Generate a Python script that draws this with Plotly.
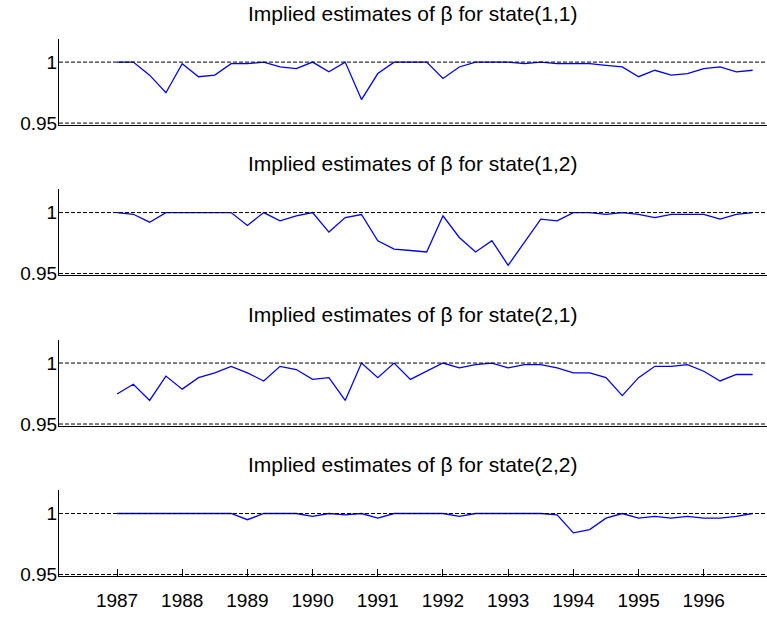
import plotly.graph_objects as go

# ---- data ----
YEARS = [1987, 1988, 1989, 1990, 1991, 1992, 1993, 1994, 1995, 1996]
YEAR_LABELS = [str(y) for y in YEARS]
QUARTERS = [y + q / 4 for y in YEARS for q in range(4)]

STATE_11 = [1.0, 1.0, 0.9893, 0.9749, 0.9987, 0.988, 0.9893, 0.9987, 0.9987, 1.0,
            0.996, 0.9947, 1.0, 0.992, 1.0, 0.9693, 0.9906, 1.0, 1.0, 1.0,
            0.9866, 0.996, 1.0, 1.0, 1.0, 0.9987, 1.0, 0.9987, 0.9987, 0.9987,
            0.9973, 0.996, 0.988, 0.9933, 0.9893, 0.9906, 0.9947, 0.996, 0.992, 0.9933]
STATE_12 = [1.0, 0.9986, 0.9921, 1.0, 1.0, 1.0, 1.0, 1.0, 0.9894, 1.0,
            0.9932, 0.9973, 1.0, 0.984, 0.9959, 0.9984, 0.9769, 0.9701, 0.9689, 0.9677,
            0.9973, 0.9796, 0.9677, 0.9769, 0.9568, 0.9757, 0.9946, 0.9932, 1.0, 1.0,
            0.9986, 1.0, 0.9986, 0.9959, 0.9986, 0.9986, 0.9986, 0.9946, 0.9986, 1.0]
STATE_21 = [0.9746, 0.9826, 0.9693, 0.9893, 0.9786, 0.988, 0.992, 0.9973, 0.992, 0.9853,
            0.9973, 0.9947, 0.9866, 0.988, 0.9693, 1.0, 0.988, 1.0, 0.9866, 0.9933,
            1.0, 0.996, 0.9987, 1.0, 0.996, 0.9987, 0.9987, 0.996, 0.992, 0.992,
            0.988, 0.9733, 0.988, 0.9973, 0.9973, 0.9987, 0.9933, 0.9853, 0.9906, 0.9906]
STATE_22 = [1.0, 1.0, 1.0, 1.0, 1.0, 1.0, 1.0, 1.0, 0.9949, 1.0,
            1.0, 1.0, 0.9976, 1.0, 0.9989, 1.0, 0.9962, 1.0, 1.0, 1.0,
            1.0, 0.9976, 1.0, 1.0, 1.0, 1.0, 1.0, 0.9989, 0.9841, 0.9868,
            0.9962, 1.0, 0.9962, 0.9976, 0.9962, 0.9976, 0.9962, 0.9962, 0.9976, 1.0]

SERIES = [STATE_11, STATE_12, STATE_21, STATE_22]
TITLES = ["Implied estimates of β for state(1,1)",
          "Implied estimates of β for state(1,2)",
          "Implied estimates of β for state(2,1)",
          "Implied estimates of β for state(2,2)"]
REF_LEVELS = [1.0, 0.95]
Y_TICKS = [0.95, 1.0]
Y_TICK_LABELS = ["0.95", "1"]

# ---- layout ----
W, H = 767, 617
FONT = "Liberation Sans, Arial, sans-serif"
tops_px = [39.5, 192.2, 344.9, 497.6]
h_px = 87.0

fig = go.Figure()
layout = dict(
    width=W, height=H,
    margin=dict(l=59, r=0, t=0, b=0, pad=0),
    paper_bgcolor="white", plot_bgcolor="white",
    showlegend=False,
    font=dict(family=FONT, size=19, color="black"),
)
annotations = []
shapes = []
for i, (vals, title) in enumerate(zip(SERIES, TITLES)):
    n = i + 1
    xa = "x" if n == 1 else f"x{n}"
    ya = "y" if n == 1 else f"y{n}"
    top = tops_px[i]
    dom = [1 - (top + h_px) / H, 1 - top / H]
    last = (i == len(SERIES) - 1)
    layout[f"xaxis{'' if n == 1 else n}"] = dict(
        domain=[0, 1], anchor=ya, range=[1986.11, 1996.97],
        showgrid=False, zeroline=False, showline=True, linecolor="black", linewidth=1,
        tickvals=YEARS if last else [], ticktext=YEAR_LABELS if last else [],
        ticks="inside" if last else "", ticklen=7, tickcolor="black",
        ticklabelstandoff=7,
        showticklabels=last, tickfont=dict(size=19, family=FONT, color="black"),
    )
    layout[f"yaxis{'' if n == 1 else n}"] = dict(
        domain=dom, anchor=xa, range=[0.9487, 1.019],
        showgrid=False, zeroline=False, showline=True, linecolor="black", linewidth=1,
        tickvals=Y_TICKS, ticktext=Y_TICK_LABELS, ticks="",
        ticklabelstandoff=-3,
        tickfont=dict(size=19, family=FONT, color="black"),
    )
    for lvl in REF_LEVELS:
        shapes.append(dict(type="line", xref=f"{xa} domain", yref=ya,
                           x0=0, x1=1, y0=lvl, y1=lvl,
                           line=dict(color="black", width=1, dash="4px,2px")))
    fig.add_trace(go.Scatter(x=QUARTERS, y=vals, mode="lines", xaxis=xa, yaxis=ya,
                             line=dict(color="#0000ff", width=1.3)))
    annotations.append(dict(text=title, xref=f"{xa} domain", yref=f"{ya} domain",
                            x=0.5, y=1, xanchor="center", yanchor="bottom",
                            yshift=12, showarrow=False,
                            font=dict(size=21, family=FONT, color="black")))
layout["annotations"] = annotations
layout["shapes"] = shapes
fig.update_layout(**layout)
fig.write_html("out.html",
               config={"displayModeBar": False},
               post_script="document.body.style.margin='0';document.body.style.overflow='hidden';")
